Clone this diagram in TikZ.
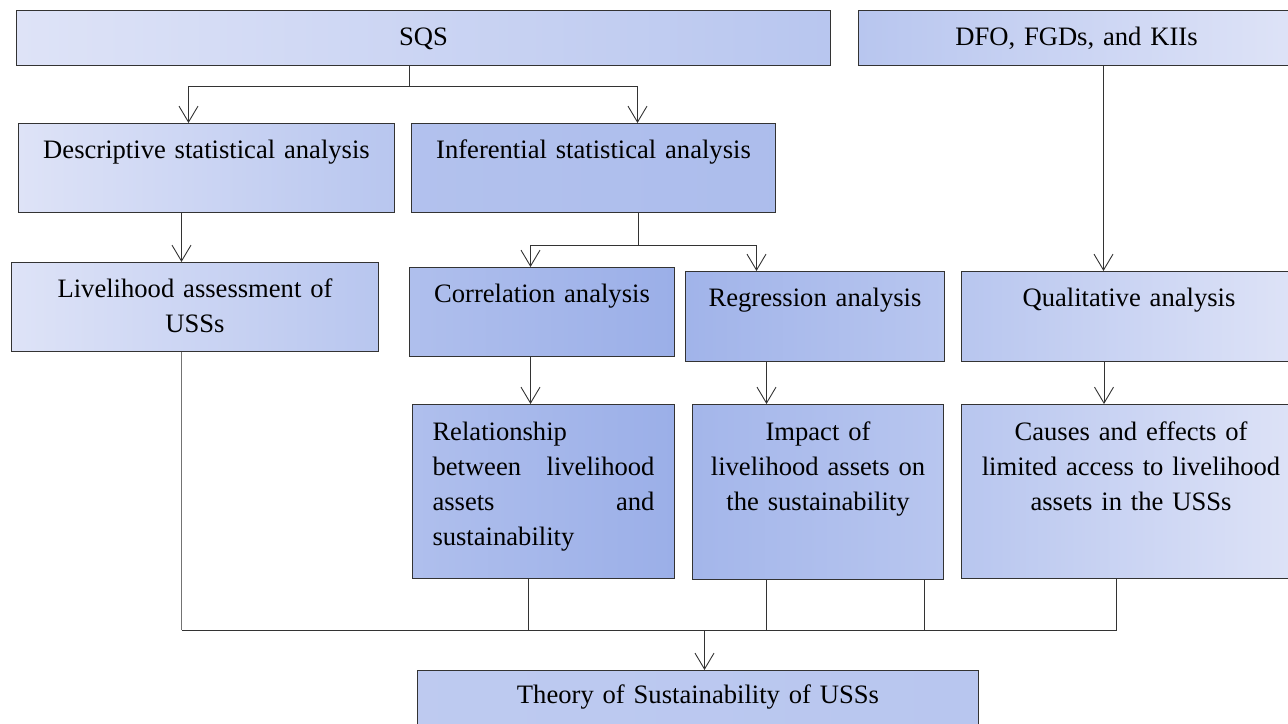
\documentclass[tikz,border=0pt]{standalone}
\usepackage{fontspec}
\setmainfont{Liberation Serif}
\usepackage{tikz}
\usetikzlibrary{calc,arrows.meta,positioning}
\usepackage{xcolor}
\definecolor{pale}{HTML}{DEE3F7}
\definecolor{mid}{HTML}{B8C6EF}
\definecolor{deep}{HTML}{9BAFE8}
\definecolor{edge}{HTML}{333333}
\tikzset{
  box/.style={draw=edge, line width=1pt, inner sep=0pt, anchor=north west,
    font=\fontsize{26.6}{35}\selectfont, align=center, text height=35pt},
  conn/.style={draw=black!80, line width=0.9pt},
  arr/.style={conn, -{Straight Barb[length=16pt,width=19pt,line width=0.9pt]}},
}
\begin{document}
\begin{tikzpicture}[x=1pt,y=-1pt]
        \useasboundingbox (0,0) rectangle (1288,723);
        \node[box, left color=pale, right color=mid, text width=814pt, text depth=20pt] (sqs) at (16,10) {SQS};
        \node[box, left color=mid, right color=pale, text width=436pt, text depth=20pt] (dfo) at (858,10) {DFO, FGDs, and KIIs};
        \node[box, left color=pale, right color=mid, text width=376pt, text depth=54pt] (desc) at (18,123) {Descriptive statistical analysis};
        \node[box, left color=mid!80!deep, right color=mid!60!deep, text width=364pt, text depth=54pt] (infer) at (411,123) {Inferential statistical analysis};
        \node[box, left color=pale, right color=mid, text width=367pt, text depth=54pt] (live) at (11,262) {Livelihood assessment of\\USSs};
        \node[box, left color=mid!70!deep, right color=deep, text width=265pt, text depth=54pt] (corr) at (409,267) {Correlation analysis};
        \node[box, left color=deep!80!mid, right color=mid, text width=259pt, text depth=55pt] (regr) at (685,271) {Regression analysis};
        \node[box, left color=mid, right color=pale, text width=335pt, text depth=55pt] (qual) at (961,271) {Qualitative analysis};
        \node[box, left color=mid!70!deep, right color=deep, align=left, inner xsep=20pt, text width=222pt, text height=36pt, text depth=138pt] (rel) at (412,404)
          {Relationship\\between\hfill livelihood\\assets\hfill and\\sustainability};
        \node[box, left color=deep!70!mid, right color=mid, text width=251pt, text height=36pt, text depth=139pt] (imp) at (692,404)
          {Impact of\\livelihood assets on\\the sustainability};
        \node[box, left color=mid, right color=pale, text width=339pt, text height=36pt, text depth=138pt] (cause) at (961,404)
          {Causes and effects of\\limited access to livelihood\\assets in the USSs};
        \node[box, left color=mid!85!pale, right color=mid, text width=561pt, text height=33pt, text depth=27pt] (theory) at (417,670) {Theory of Sustainability of USSs};

        \coordinate (top) at (0,86);
        \coordinate (mid) at (0,245);
        \coordinate (bus) at (0,630);

        \draw[conn] ([xshift=-14pt]sqs.south) -- ([xshift=-14pt]sqs.south |- top);
        \draw[arr] ([xshift=-14pt]sqs.south |- top) -| ([xshift=-18pt]desc.north);
        \draw[arr] ([xshift=-14pt]sqs.south |- top) -| ([xshift=44pt]infer.north);
        \draw[arr] ([xshift=27pt]dfo.south) -- ([xshift=27pt]dfo.south |- qual.north);
        \draw[arr] ([xshift=-25pt]desc.south) -- ([xshift=-25pt]desc.south |- live.north);

        \draw[conn] ([xshift=45pt]infer.south) -- ([xshift=45pt]infer.south |- mid);
        \draw[arr] ([xshift=45pt]infer.south |- mid) -| ([xshift=-11.5pt]corr.north);
        \draw[arr] ([xshift=45pt]infer.south |- mid) -| ([xshift=-58.5pt]regr.north);

        \draw[arr] ([xshift=-11.5pt]corr.south) -- ([xshift=-11.5pt]corr.south |- rel.north);
        \draw[arr] ([xshift=-48.5pt]regr.south) -- ([xshift=-48.5pt]regr.south |- imp.north);
        \draw[arr] ([xshift=-25pt]qual.south) -- ([xshift=-25pt]qual.south |- cause.north);

        \draw[conn, draw=black!55, line width=1.3pt] ([xshift=-13.5pt]live.south) -- ([xshift=-13.5pt]live.south |- bus);
        \draw[conn] ([xshift=-15pt]rel.south) -- ([xshift=-15pt]rel.south |- bus);
        \draw[conn] ([xshift=-51.5pt]imp.south) -- ([xshift=-51.5pt]imp.south |- bus);
        \draw[conn] ([xshift=106.5pt]imp.south) -- ([xshift=106.5pt]imp.south |- bus);
        \draw[conn] ([xshift=-14.5pt]cause.south) -- ([xshift=-14.5pt]cause.south |- bus);
        \draw[conn] ([xshift=-13.5pt]live.south |- bus) -- ([xshift=-14.5pt]cause.south |- bus);
        \draw[arr] ([xshift=6.5pt]theory.north |- bus) -- ([xshift=6.5pt]theory.north);
\end{tikzpicture}
\end{document}
